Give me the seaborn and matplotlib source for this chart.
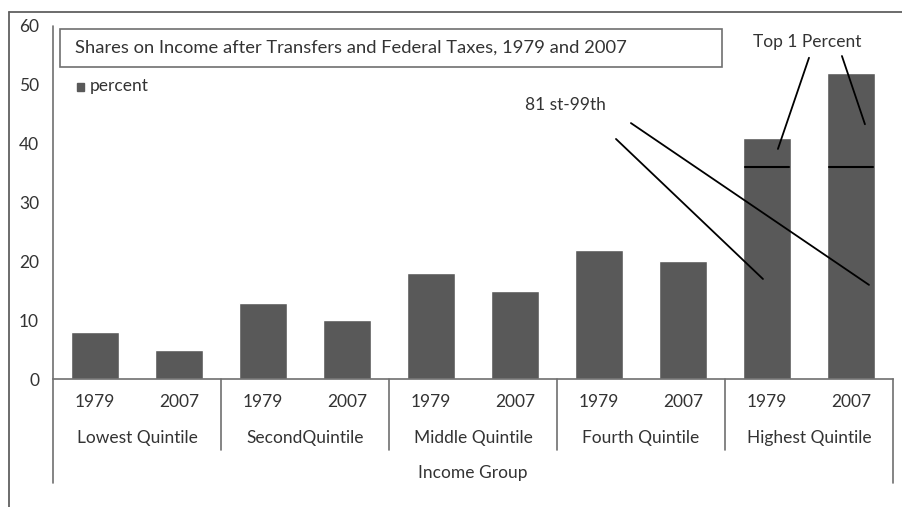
import seaborn as sns
import matplotlib.pyplot as plt
import pandas as pd
from matplotlib.lines import Line2D
from matplotlib.patches import Rectangle

# data
groups = ['Lowest Quintile', 'SecondQuintile', 'Middle Quintile', 'Fourth Quintile', 'Highest Quintile']
years = ['1979', '2007']
share_1979 = [8, 13, 18, 22, 41]
share_2007 = [5, 10, 15, 20, 52]
split_81_99 = [36, 36]  # top of 81st-99th part in the highest quintile bars

df = pd.DataFrame({
    'group': groups * 2,
    'year': [years[0]] * 5 + [years[1]] * 5,
    'value': share_1979 + share_2007,
})

sns.set_style('white')
plt.rcParams['font.family'] = ['Lato', 'DejaVu Sans']

fig = plt.figure(figsize=(9.03, 5.07), dpi=100)
W, H = 903, 507
ax = fig.add_axes([53 / W, (H - 379) / H, (893 - 53) / W, (379 - 26) / H])

fs = 12.5
tc = '#333333'
bar_col = '#595959'
sns.barplot(data=df, x='group', y='value', hue='year', order=groups, hue_order=years,
            palette=[bar_col, bar_col], width=1.0, gap=0.43, legend=False, ax=ax,
            saturation=1)

ax.set_ylim(0, 60)
ax.set_xlim(-0.5, len(groups) - 0.5)
ax.set_yticks(range(0, 61, 10))
ax.tick_params(axis='y', length=0, pad=10, labelsize=fs, labelcolor=tc)
ax.set_xticks(range(len(groups)))
ax.set_xticklabels(groups, fontsize=fs, color=tc)
ax.tick_params(axis='x', length=0, pad=37)
ax.set_xlabel('')
ax.set_ylabel('')
for s in ['top', 'right', 'left']:
    ax.spines[s].set_visible(False)
ax.spines['bottom'].set_color('#707070')
ax.spines['bottom'].set_linewidth(1.2)

# year labels under each bar
trans = ax.get_xaxis_transform()
for i, p in enumerate(ax.patches[:10]):
    yr = years[i // len(groups)]
    ax.text(p.get_x() + p.get_width() / 2, -0.065, yr, transform=trans,
            ha='center', va='center', fontsize=fs, color=tc)

# axis frame lines below the plot
lc = '#707070'
ax.add_line(Line2D([-0.5, -0.5], [1.0, -0.295], transform=trans, color=lc, lw=1.2, clip_on=False))
ax.add_line(Line2D([len(groups) - 0.5] * 2, [0, -0.295], transform=trans, color=lc, lw=1.2, clip_on=False))
for k in range(1, len(groups)):
    ax.add_line(Line2D([k - 0.5] * 2, [0, -0.201], transform=trans, color=lc, lw=1.2, clip_on=False))
ax.text(0.5, -0.266, 'Income Group', transform=ax.transAxes, ha='center', va='center',
        fontsize=fs, color=tc)

# outer frame of the figure
fig.add_artist(Line2D([9 / W, 9 / W], [0, 1 - 12 / H], color='#606060', lw=1.3))
fig.add_artist(Line2D([9 / W, 1], [1 - 12 / H] * 2, color='#606060', lw=1.3))

# title box
fig.add_artist(Rectangle((60 / W, 1 - 67 / H), (722 - 60) / W, (67 - 29) / H,
                         fill=False, edgecolor='#707070', lw=1.2))
fig.text(75 / W, 1 - 48 / H, 'Shares on Income after Transfers and Federal Taxes, 1979 and 2007',
         ha='left', va='center', fontsize=13.2, color=tc)

# legend
fig.add_artist(Rectangle((77 / W, 1 - 91 / H), 7 / W, 8 / H, color=bar_col))
fig.text(90 / W, 1 - 86 / H, 'percent', ha='left', va='center', fontsize=fs, color=tc)

# split lines inside the highest quintile bars
top_bars = [ax.patches[4], ax.patches[9]]
for p, v in zip(top_bars, split_81_99):
    ax.plot([p.get_x() + 0.01, p.get_x() + p.get_width() - 0.01], [v, v], color='black', lw=1.5)

# annotations
ax.text(3.99, 57.3, 'Top 1 Percent', ha='center', va='center', fontsize=fs, color=tc)
ax.plot([4.0, 3.815], [54.6, 39.1], color='black', lw=1.3)
ax.plot([4.196, 4.333], [54.9, 43.3], color='black', lw=1.3)
ax.text(2.55, 46.6, '81 st-99th', ha='center', va='center', fontsize=fs, color=tc)
ax.plot([2.851, 3.726], [40.8, 17.0], color='black', lw=1.3)
ax.plot([2.94, 4.357], [43.5, 16.0], color='black', lw=1.3)

fig.savefig('out.png', dpi=100)
